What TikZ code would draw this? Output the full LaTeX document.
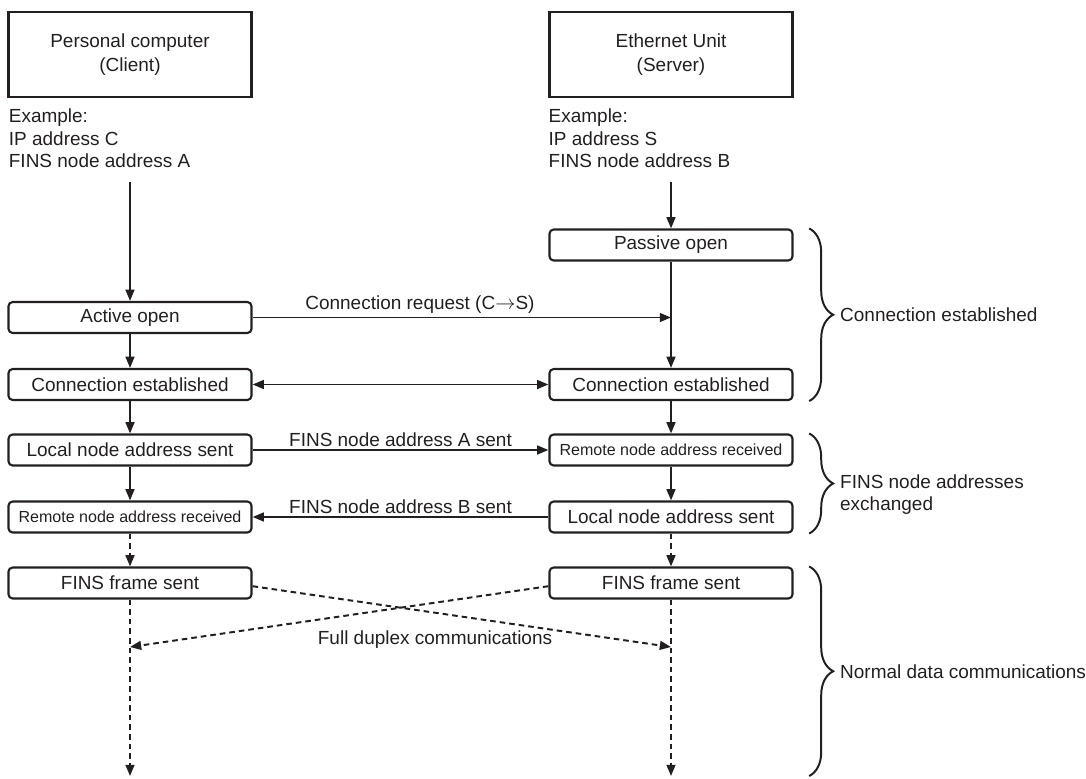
\documentclass[tikz,border=0pt]{standalone}
\usepackage{fontspec}
\setmainfont{Liberation Sans}
\usepackage{tikz}
\usetikzlibrary{
arrows.meta,
positioning,
decorations.pathreplacing
}
\definecolor{ink}{RGB}{35,31,32}

\begin{document}
\begin{tikzpicture}[
  x=0.025cm, y=-0.025cm,
  >={Triangle[length=0.28cm, width=0.22cm]},
  every node/.style={text=ink},
  unitbox/.style={draw=ink, line width=1.5pt, minimum width=6.075cm, minimum height=2.125cm, align=center, font=\fontsize{13.5pt}{17pt}\selectfont},
  stepbox/.style={draw=ink, line width=1.5pt, rounded corners=3pt, minimum width=6.075cm, minimum height=0.775cm, inner sep=0pt, font=\fontsize{13.5pt}{16pt}\selectfont},
  smalltxt/.style={font=\fontsize{11.4pt}{14pt}\selectfont},
  note/.style={align=left, inner sep=0pt, font=\fontsize{13.5pt}{16pt}\selectfont},
  lbl/.style={inner sep=2pt, font=\fontsize{13.5pt}{16pt}\selectfont},
  flow/.style={draw=ink, line width=1.4pt, ->},
  dflow/.style={flow, dash pattern=on 0.14cm off 0.1cm},
  grp/.style={draw=ink, line width=1.4pt, decorate, decoration={brace, amplitude=0.6cm}}
]
\useasboundingbox (0,0) rectangle (1086,778);

% Units
\node[unitbox] (pc) at (130,54.5) {Personal computer\\(Client)};
\node[unitbox] (eu) at (671,54.5) {Ethernet Unit\\(Server)};
\node[note, below right=0.27cm and 0.03cm of pc.south west] (pcex) {Example:\\IP address C\\FINS node address A};
\node[note, below right=0.27cm and 0cm of eu.south west] (euex) {Example:\\IP address S\\FINS node address B};

% Client side
\node[stepbox] (act) at (130,317.5) {Active open};
\node[stepbox] (cel) at (130,384.5) {Connection established};
\node[stepbox] (lsl) at (130,450) {Local node address sent};
\node[stepbox, smalltxt] (rrl) at (130,517) {Remote node address received};
\node[stepbox] (ffl) at (130,583) {FINS frame sent};

% Server side
\node[stepbox] (pas) at (671,245) {Passive open};
\node[stepbox] (cer) at (671,384.5) {Connection established};
\node[stepbox, smalltxt] (rrr) at (671,450) {Remote node address received};
\node[stepbox] (lsr) at (671,517) {Local node address sent};
\node[stepbox] (ffr) at (671,583) {FINS frame sent};

% Line ends
\coordinate (cltop) at (130,182);
\coordinate (srvtop) at (671,182);
\coordinate (clbot) at (130,776);
\coordinate (srvbot) at (671,776);
\coordinate (lhit) at (130,647);
\coordinate (rhit) at (671,647);

% Edges
\draw[flow] (cltop) -- (act);
\draw[flow] (srvtop) -- (pas);
\draw[flow] (act) -- (cel);
\draw[flow] (pas) -- (cer);
\draw[flow] (act) -- node[pos=0.4, above, lbl] (creq) {Connection request (C$\rightarrow$S)} (act -| pas);
\draw[flow, <->] (cel) -- (cer);
\draw[flow] (cel) -- (lsl);
\draw[flow] (cer) -- (rrr);
\draw[flow] (lsl) -- node[above, lbl] (asent) {FINS node address A sent} (rrr);
\draw[flow] (lsl) -- (rrl);
\draw[flow] (rrr) -- (lsr);
\draw[flow] (lsr) -- node[above, lbl] (bsent) {FINS node address B sent} (rrl);
\draw[dflow] (rrl) -- (ffl);
\draw[dflow] (lsr) -- (ffr);
\draw[dflow] (ffl) -- (clbot);
\draw[dflow] (ffr) -- (srvbot);
\draw[dflow] ([yshift=-0.08cm]ffl.east) -- (rhit);
\draw[dflow] ([yshift=-0.08cm]ffr.west) -- (lhit);
\node[note] (duplex) at (435,640) {Full duplex communications};

% Phases
\draw[grp] ([xshift=0.39cm]pas.north east) -- ([xshift=0.39cm]cer.south east)
  node[midway, right=0.75cm, note] (ph1) {Connection established};
\draw[grp] ([xshift=0.39cm]rrr.north east) -- ([xshift=0.39cm]lsr.south east)
  node[midway, right=0.75cm, yshift=-0.28cm, note] (ph2) {FINS node addresses\\exchanged};
\draw[grp] ([xshift=0.39cm]ffr.north east) -- ([xshift=0.39cm]ffr.east |- srvbot)
  node[midway, right=0.75cm, note] (ph3) {Normal data communications};

\end{tikzpicture}
\end{document}
